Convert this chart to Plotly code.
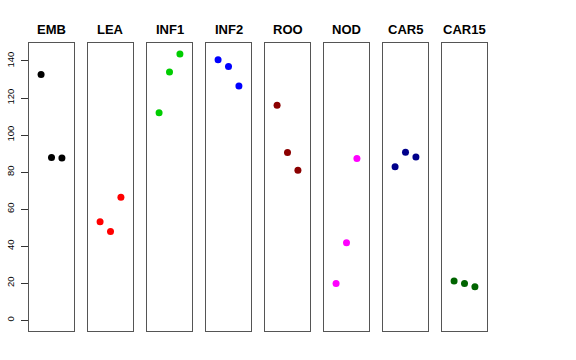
import plotly.graph_objects as go

groups = ["EMB", "LEA", "INF1", "INF2", "ROO", "NOD", "CAR5", "CAR15"]
colors = ["#000000", "#FF0000", "#00CD00", "#0000FF", "#8B0000", "#FF00FF", "#00008B", "#006400"]
x_pos = [1, 2, 3]
values = {
    "EMB": [132.7, 87.9, 87.6],
    "LEA": [53.1, 47.9, 66.4],
    "INF1": [112.1, 134.1, 143.8],
    "INF2": [140.6, 137.0, 126.5],
    "ROO": [116.1, 90.5, 81.0],
    "NOD": [19.8, 41.8, 87.3],
    "CAR5": [82.8, 90.7, 88.2],
    "CAR15": [21.2, 19.8, 18.0],
}
y_ticks = [0, 20, 40, 60, 80, 100, 120, 140]

W, H = 576, 360
fig = go.Figure()
ymin, ymax = 0, 143.8
ext = (ymax - ymin) * 0.04
yrange = [ymin - ext, ymax + ext]
top_px, bot_px = 43.3, 330.8
ydom = [1 - bot_px / H, 1 - top_px / H]

layout = dict(
    width=W, height=H, margin=dict(l=0, r=0, t=0, b=0, autoexpand=False),
    plot_bgcolor="white", paper_bgcolor="white", showlegend=False,
    font=dict(family="Liberation Sans, Arial, sans-serif", color="black"),
)
annotations = []
for i, g in enumerate(groups):
    left = 29 + 59 * i
    right = left + 45
    idx = "" if i == 0 else str(i + 1)
    fig.add_trace(go.Scatter(
        x=x_pos, y=values[g], mode="markers",
        marker=dict(color=colors[i], size=7, line=dict(width=0)),
        xaxis="x" + idx, yaxis="y" + idx, hoverinfo="skip"))
    layout["xaxis" + idx] = dict(
        domain=[left / W, right / W], range=[-0.16, 4.16],
        showgrid=False, zeroline=False, showticklabels=False, ticks="",
        showline=True, mirror=True, linecolor="#555555", linewidth=1,
        anchor="y" + idx, automargin=False)
    yax = dict(
        domain=ydom, range=yrange, showgrid=False, zeroline=False,
        showline=True, mirror=True, linecolor="#555555", linewidth=1,
        anchor="x" + idx, automargin=False)
    if i == 0:
        yax.update(tickvals=y_ticks, ticks="outside", ticklen=7, tickcolor="#333333",
                   tickangle=-90, tickfont=dict(size=9.5, color="black"),
                   ticklabelstandoff=3)
    else:
        yax.update(showticklabels=False, ticks="")
    layout["yaxis" + idx] = yax
    annotations.append(dict(
        x=(left + right) / 2 / W, y=1 - 29 / H, xref="paper", yref="paper",
        text="<b>" + g + "</b>", showarrow=False,
        font=dict(size=13, color="black"), xanchor="center", yanchor="middle"))
layout["annotations"] = annotations
fig.update_layout(**layout)
fig.write_html("out.html", config={"displayModeBar": False},
               post_script="document.body.style.margin='0';")
